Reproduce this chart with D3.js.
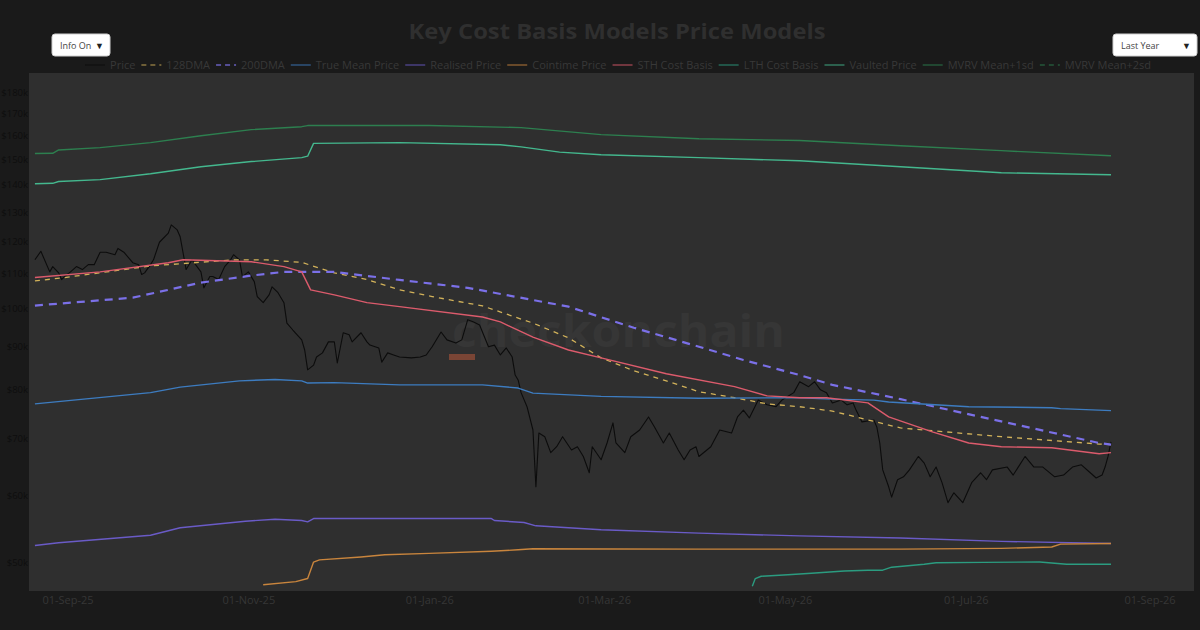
<!DOCTYPE html>
<html>
<head>
<meta charset="utf-8">
<script src="https://cdn.jsdelivr.net/npm/d3@7"></script>
<style>
  body { margin: 0; background: #1a1a1a; }
  svg { display: block; }
</style>
</head>
<body>
<div id="chart"></div>
<script>
// all values in $k, dates as yyyy-mm-dd
const price = [["2025-08-21",114.1],["2025-08-23",116.8],["2025-08-26",110.4],["2025-08-27",112.0],["2025-08-29",110.1],["2025-08-30",108.1],["2025-08-31",109.0],["2025-09-02",110.4],["2025-09-04",112.0],["2025-09-06",111.1],["2025-09-08",112.6],["2025-09-10",112.6],["2025-09-12",116.5],["2025-09-14",116.5],["2025-09-17",115.7],["2025-09-18",117.7],["2025-09-20",116.5],["2025-09-23",113.2],["2025-09-25",112.6],["2025-09-26",109.6],["2025-09-27",110.1],["2025-09-29",112.6],["2025-09-30",114.1],["2025-10-02",119.7],["2025-10-05",122.7],["2025-10-06",125.5],["2025-10-08",123.8],["2025-10-09",121.5],["2025-10-11",111.1],["2025-10-13",114.1],["2025-10-16",110.4],["2025-10-17",105.7],["2025-10-19",109.0],["2025-10-20",109.0],["2025-10-22",108.1],["2025-10-24",112.0],["2025-10-26",114.1],["2025-10-27",115.7],["2025-10-29",114.1],["2025-10-30",109.0],["2025-11-01",110.4],["2025-11-03",107.5],["2025-11-04",103.2],["2025-11-06",101.5],["2025-11-08",103.7],["2025-11-09",106.0],["2025-11-11",104.3],["2025-11-13",101.5],["2025-11-14",96.0],["2025-11-16",94.2],["2025-11-19",91.7],["2025-11-20",89.2],["2025-11-21",84.5],["2025-11-23",85.6],["2025-11-24",87.5],["2025-11-26",88.5],["2025-11-28",91.2],["2025-11-30",91.2],["2025-12-01",86.1],["2025-12-03",93.5],["2025-12-05",93.0],["2025-12-06",91.2],["2025-12-09",93.5],["2025-12-11",91.2],["2025-12-12",90.4],["2025-12-15",89.7],["2025-12-16",86.3],["2025-12-18",88.5],["2025-12-20",88.0],["2025-12-22",87.5],["2025-12-26",87.3],["2025-12-29",87.5],["2025-12-31",88.0],["2026-01-02",90.0],["2026-01-05",93.7],["2026-01-07",91.7],["2026-01-10",90.9],["2026-01-12",91.7],["2026-01-14",96.9],["2026-01-16",96.3],["2026-01-18",95.5],["2026-01-21",90.0],["2026-01-23",90.4],["2026-01-25",88.0],["2026-01-27",89.7],["2026-01-29",87.5],["2026-01-30",83.3],["2026-01-31",82.2],["2026-02-01",79.4],["2026-02-03",76.4],["2026-02-05",71.7],["2026-02-06",61.4],["2026-02-07",71.1],["2026-02-09",70.4],["2026-02-11",67.4],["2026-02-13",68.5],["2026-02-15",70.4],["2026-02-18",67.9],["2026-02-20",68.5],["2026-02-22",66.7],["2026-02-24",63.8],["2026-02-25",68.5],["2026-02-28",66.1],["2026-03-02",69.2],["2026-03-04",73.1],["2026-03-05",69.2],["2026-03-08",67.4],["2026-03-10",70.4],["2026-03-13",71.7],["2026-03-16",74.3],["2026-03-18",72.3],["2026-03-21",69.2],["2026-03-23",71.1],["2026-03-26",67.9],["2026-03-28",66.1],["2026-03-30",67.9],["2026-04-01",68.5],["2026-04-02",66.7],["2026-04-06",68.5],["2026-04-09",71.7],["2026-04-13",71.1],["2026-04-15",74.3],["2026-04-17",75.7],["2026-04-19",74.1],["2026-04-22",77.8],["2026-04-25",76.8],["2026-04-28",76.4],["2026-04-30",77.8],["2026-05-04",79.4],["2026-05-06",81.8],["2026-05-09",80.7],["2026-05-11",81.8],["2026-05-13",80.0],["2026-05-15",79.4],["2026-05-17",77.2],["2026-05-20",77.8],["2026-05-22",76.8],["2026-05-24",77.2],["2026-05-25",75.7],["2026-05-27",73.3],["2026-05-31",73.7],["2026-06-01",72.3],["2026-06-02",69.2],["2026-06-03",64.3],["2026-06-05",61.4],["2026-06-06",59.7],["2026-06-08",62.6],["2026-06-10",63.1],["2026-06-12",64.3],["2026-06-15",66.7],["2026-06-17",65.5],["2026-06-19",63.1],["2026-06-21",64.8],["2026-06-23",62.1],["2026-06-25",58.8],["2026-06-27",60.4],["2026-06-30",58.8],["2026-07-03",62.1],["2026-07-06",63.8],["2026-07-08",62.6],["2026-07-10",64.3],["2026-07-15",64.8],["2026-07-17",63.4],["2026-07-21",66.7],["2026-07-24",64.8],["2026-07-27",64.8],["2026-07-31",63.1],["2026-08-03",63.4],["2026-08-06",64.8],["2026-08-09",65.2],["2026-08-12",63.8],["2026-08-14",62.9],["2026-08-16",63.4],["2026-08-17",64.8],["2026-08-18",66.7],["2026-08-19",69.4]];

const dma128 = [["2025-08-21",107.7],["2025-08-31",108.7],["2025-09-29",112.2],["2025-10-27",114.1],["2025-11-07",114.1],["2025-11-19",113.3],["2025-11-30",110.1],["2025-12-11",108.1],["2025-12-22",105.1],["2026-01-02",103.2],["2026-01-19",100.6],["2026-02-05",96.0],["2026-02-17",92.2],["2026-02-28",87.3],["2026-03-11",84.3],["2026-03-22",82.0],["2026-04-02",79.6],["2026-04-14",78.3],["2026-04-25",77.0],["2026-05-06",76.4],["2026-05-17",75.5],["2026-06-09",72.1],["2026-07-13",70.4],["2026-08-15",69.0],["2026-08-19",68.9]];

const dma200 = [["2025-08-21",100.7],["2025-09-23",102.9],["2025-10-16",107.2],["2025-11-02",109.3],["2025-11-13",110.4],["2025-11-30",110.4],["2025-12-22",108.0],["2026-01-14",105.7],["2026-02-17",100.4],["2026-03-11",94.8],["2026-04-02",90.0],["2026-04-17",86.8],["2026-05-06",83.3],["2026-05-17",81.1],["2026-06-09",78.0],["2026-07-13",73.4],["2026-08-15",69.2],["2026-08-19",68.9]];

const trueMean = [["2025-08-21",77.0],["2025-09-29",79.4],["2025-10-09",80.6],["2025-10-29",82.0],["2025-11-10",82.3],["2025-11-19",82.0],["2025-11-21",81.5],["2025-11-30",81.6],["2025-12-22",81.1],["2026-01-19",81.1],["2026-01-31",80.4],["2026-02-05",79.3],["2026-02-28",78.6],["2026-04-02",78.2],["2026-05-06",78.3],["2026-05-17",78.0],["2026-05-31",77.8],["2026-06-05",77.4],["2026-07-02",76.4],["2026-07-30",76.2],["2026-08-02",76.0],["2026-08-19",75.6]];

const realised = [["2025-08-21",52.3],["2025-08-29",52.7],["2025-09-29",53.8],["2025-10-09",54.9],["2025-10-31",55.9],["2025-11-10",56.2],["2025-11-19",56.0],["2025-11-21",55.8],["2025-11-23",56.3],["2025-12-17",56.3],["2026-01-22",56.3],["2026-01-23",56.0],["2026-02-02",55.7],["2026-02-06",55.2],["2026-02-28",54.6],["2026-04-02",54.1],["2026-05-06",53.7],["2026-06-09",53.4],["2026-07-13",52.9],["2026-08-19",52.6]];

const cointime = [["2025-11-06",47.0],["2025-11-17",47.4],["2025-11-21",47.8],["2025-11-23",50.0],["2025-11-25",50.3],["2025-12-09",50.7],["2025-12-17",51.0],["2026-01-01",51.2],["2026-01-22",51.5],["2026-01-31",51.7],["2026-02-05",51.85],["2026-04-02",51.8],["2026-06-09",51.8],["2026-07-13",51.9],["2026-07-30",52.1],["2026-08-02",52.5],["2026-08-19",52.6]];

const sthCost = [["2025-08-21",108.7],["2025-09-12",110.4],["2025-10-05",113.2],["2025-10-10",114.1],["2025-11-02",113.5],["2025-11-13",112.0],["2025-11-19",110.4],["2025-11-22",105.1],["2025-11-30",103.7],["2025-12-11",101.5],["2025-12-22",100.4],["2026-01-19",97.6],["2026-01-25",96.3],["2026-02-05",92.4],["2026-02-17",89.2],["2026-02-28",87.3],["2026-03-22",83.6],["2026-04-14",80.7],["2026-04-25",78.7],["2026-05-06",78.3],["2026-05-15",78.3],["2026-05-29",77.2],["2026-06-05",74.3],["2026-06-20",71.3],["2026-07-02",69.2],["2026-07-13",68.5],["2026-07-30",68.3],["2026-08-15",67.2],["2026-08-19",67.4]];

const lthCost = [["2026-04-20",46.8],["2026-04-21",47.8],["2026-04-23",48.1],["2026-05-02",48.3],["2026-05-10",48.5],["2026-05-21",48.8],["2026-05-29",48.9],["2026-06-03",48.9],["2026-06-06",49.3],["2026-06-17",49.7],["2026-06-21",49.9],["2026-07-07",49.96],["2026-07-26",50.0],["2026-08-04",49.7],["2026-08-19",49.7]];

const vaulted = [["2025-08-21",140.4],["2025-08-27",140.6],["2025-08-29",141.3],["2025-09-12",142.0],["2025-09-29",144.3],["2025-10-16",147.1],["2025-11-02",149.2],["2025-11-19",150.8],["2025-11-21",151.4],["2025-11-23",156.8],["2025-12-22",157.1],["2026-01-25",156.2],["2026-02-01",155.3],["2026-02-14",153.1],["2026-02-28",152.0],["2026-04-02",150.8],["2026-05-06",149.5],["2026-06-09",147.1],["2026-07-13",144.7],["2026-08-19",143.9]];

const mvrv1sd = [["2025-08-21",152.5],["2025-08-27",152.6],["2025-08-29",154.0],["2025-09-12",155.0],["2025-09-29",157.1],["2025-10-16",160.1],["2025-11-02",162.8],["2025-11-19",164.1],["2025-11-21",164.6],["2026-01-01",164.6],["2026-02-01",163.7],["2026-02-28",160.6],["2026-04-02",158.8],["2026-05-06",158.0],["2026-06-09",155.8],["2026-07-13",153.7],["2026-08-19",151.6]];

const mvrv2sd = []; // sits above the visible range

const yTicks = [50, 60, 70, 80, 90, 100, 110, 120, 130, 140, 150, 160, 170, 180];
const xTicks = ["2025-09-01", "2025-11-01", "2026-01-01", "2026-03-01", "2026-05-01", "2026-07-01", "2026-09-01"];

// series table: name, data, colour, width, dash
const series = [
  { name: "Price",            data: price,    color: "#0c0c0c", w: 1.1, dash: null },
  { name: "128DMA",           data: dma128,   color: "#d2b25a", w: 1.3, dash: "5,5" },
  { name: "200DMA",           data: dma200,   color: "#7b70e8", w: 2.2, dash: "8,6" },
  { name: "True Mean Price",  data: trueMean, color: "#3d7cc0", w: 1.4, dash: null },
  { name: "Realised Price",   data: realised, color: "#6a5bc7", w: 1.4, dash: null },
  { name: "Cointime Price",   data: cointime, color: "#c9853d", w: 1.4, dash: null },
  { name: "STH Cost Basis",   data: sthCost,  color: "#dc5b6c", w: 1.4, dash: null },
  { name: "LTH Cost Basis",   data: lthCost,  color: "#2b9c80", w: 1.4, dash: null },
  { name: "Vaulted Price",    data: vaulted,  color: "#44b88e", w: 1.4, dash: null },
  { name: "MVRV Mean+1sd",    data: mvrv1sd,  color: "#2d7f4f", w: 1.4, dash: null },
  { name: "MVRV Mean+2sd",    data: mvrv2sd,  color: "#2d7f4f", w: 1.4, dash: "4,4" }
];

const W = 1200, H = 630;
const plot = { left: 29, right: 1194, top: 73, bottom: 591 };
const parse = d3.utcParse("%Y-%m-%d");
const font = "'Open Sans', 'Noto Sans', sans-serif";

const x = d3.scaleUtc()
  .domain([parse("2025-08-19"), parse("2026-09-16")])
  .range([plot.left, plot.right]);
const y = d3.scaleLog()
  .domain([46.2, 190])
  .range([plot.bottom, plot.top]);

const svg = d3.select("#chart").append("svg")
  .attr("width", W).attr("height", H)
  .style("font-family", font);

svg.append("rect").attr("width", W).attr("height", H).attr("fill", "#1a1a1a");

// plot background
svg.append("rect")
  .attr("x", plot.left).attr("y", plot.top)
  .attr("width", plot.right - plot.left).attr("height", plot.bottom - plot.top)
  .attr("fill", "#2f2f2f");

svg.append("clipPath").attr("id", "clip")
  .append("rect")
  .attr("x", plot.left).attr("y", plot.top)
  .attr("width", plot.right - plot.left).attr("height", plot.bottom - plot.top);

// watermark
const wm = svg.append("g");
wm.append("text")
  .attr("x", 452).attr("y", 347)
  .attr("textLength", 333).attr("lengthAdjust", "spacingAndGlyphs")
  .style("font-size", "45px").style("font-weight", "bold")
  .attr("fill", "#363636")
  .text("checkonchain");
wm.append("rect")
  .attr("x", 449).attr("y", 354).attr("width", 26).attr("height", 6)
  .attr("fill", "#7a4535");

// title
svg.append("text")
  .attr("x", 617).attr("y", 39)
  .attr("text-anchor", "middle")
  .attr("textLength", 417).attr("lengthAdjust", "spacingAndGlyphs")
  .style("font-size", "21px").style("font-weight", "bold")
  .attr("fill", "#2f2f2f")
  .text("Key Cost Basis Models Price Models");

// y axis (log)
const yAxis = svg.append("g")
  .attr("transform", `translate(${plot.left},0)`)
  .call(d3.axisLeft(y).tickValues(yTicks).tickSize(0).tickPadding(1)
    .tickFormat(d => "$" + d + "k"));
yAxis.select(".domain").remove();
yAxis.selectAll("text").attr("fill", "#0e0e0e").style("font-size", "9.5px").style("font-family", font);

// x axis
const xAxis = svg.append("g")
  .attr("transform", `translate(0,${plot.bottom})`)
  .call(d3.axisBottom(x).tickValues(xTicks.map(parse)).tickSize(0).tickPadding(5)
    .tickFormat(d3.utcFormat("%d-%b-%y")));
xAxis.select(".domain").remove();
xAxis.selectAll("text").attr("fill", "#363636").style("font-size", "11px").style("font-family", font);

// lines
const line = d3.line()
  .x(d => x(parse(d[0])))
  .y(d => y(d[1]));

const lines = svg.append("g").attr("clip-path", "url(#clip)");
series.forEach(s => {
  if (!s.data.length) return;
  lines.append("path")
    .datum(s.data)
    .attr("fill", "none")
    .attr("stroke", s.color)
    .attr("stroke-width", s.w)
    .attr("stroke-dasharray", s.dash)
    .attr("stroke-linejoin", "round")
    .attr("d", line);
});

// legend, laid out left to right and centred
const legend = svg.append("g");
let lx = 0;
series.forEach(s => {
  const g = legend.append("g").attr("transform", `translate(${lx},0)`);
  g.append("line")
    .attr("x1", 0).attr("x2", 20).attr("y1", 0).attr("y2", 0)
    .attr("stroke", s.color).attr("stroke-width", s.w > 2 ? 2 : 1.5)
    .attr("stroke-dasharray", s.dash ? "5,4" : null)
    .attr("opacity", 0.6);
  const t = g.append("text")
    .attr("x", 25).attr("y", 4)
    .style("font-size", "11px")
    .attr("fill", "#383838")
    .text(s.name);
  lx += 25 + t.node().getComputedTextLength() + 6;
});
const legendWidth = lx - 6;
legend.attr("transform", `translate(${618 - legendWidth / 2},65)`);

// dropdown boxes
function dropdown(x0, w, label) {
  const g = svg.append("g").attr("transform", `translate(${x0},34)`);
  g.append("rect").attr("width", w).attr("height", 22).attr("rx", 3)
    .attr("fill", "#ffffff").attr("stroke", "#d0d0d0");
  g.append("text").attr("x", 8).attr("y", 14.5)
    .style("font-size", "9px").attr("fill", "#444").text(label);
  g.append("text").attr("x", w - 6).attr("y", 14.5).attr("text-anchor", "end")
    .style("font-size", "9px").attr("fill", "#222").text("▼");
}
dropdown(52, 58, "Info On");
dropdown(1113, 84, "Last Year");
</script>
</body>
</html>
